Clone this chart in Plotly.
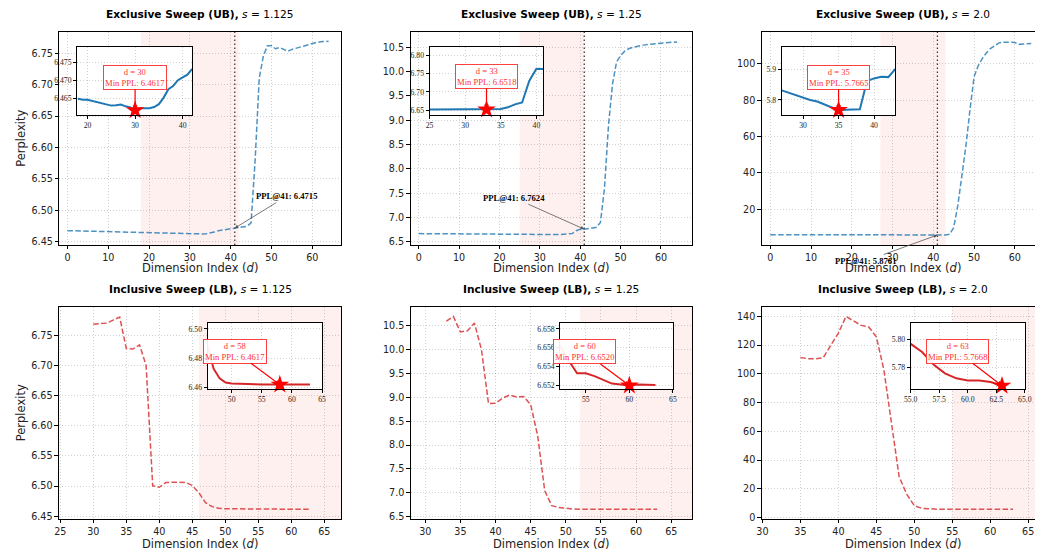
import plotly.graph_objects as go

W, H = 1042, 556

# ---------------- data ----------------
d_ub = list(range(0, 65))
ppl_ub_s1125 = [6.4675, 6.4673, 6.4671, 6.4670, 6.4669, 6.4668, 6.4667, 6.4666, 6.4665, 6.4664,
                6.4663, 6.4662, 6.4660, 6.4659, 6.4657, 6.4655, 6.4653, 6.4651,
                6.4649, 6.4646, 6.4646, 6.4643, 6.4640, 6.4636, 6.4632, 6.4630, 6.4631, 6.4633,
                6.4628, 6.4625, 6.4617, 6.4623, 6.4623, 6.4623, 6.4626, 6.4634, 6.4652, 6.4675,
                6.4684, 6.4700, 6.4708, 6.4715, 6.4731,
                6.4733, 6.4745, 6.4800, 6.5800, 6.7100, 6.7450, 6.7620, 6.7620, 6.7570, 6.7590,
                6.7560, 6.7530, 6.7560, 6.7580, 6.7600, 6.7620, 6.7640, 6.7660, 6.7670, 6.7680,
                6.7680, 6.7690]
ppl_ub_s125 = [6.672, 6.671, 6.670, 6.669, 6.668, 6.667, 6.666, 6.665, 6.664, 6.663, 6.662,
               6.661, 6.660, 6.659, 6.658, 6.657, 6.656, 6.6555, 6.655, 6.6545, 6.654, 6.6535,
               6.653, 6.6525, 6.6522,
               6.6520, 6.6522, 6.6523, 6.6522, 6.6522, 6.6521, 6.6520, 6.6519, 6.6518, 6.6522,
               6.6535, 6.6580, 6.6660, 6.6710, 6.7300, 6.7630, 6.7624,
               6.77, 6.78, 6.80, 6.90, 7.60, 8.90, 9.75, 10.20, 10.33, 10.42, 10.47, 10.50,
               10.52, 10.54, 10.55, 10.56, 10.57, 10.58, 10.59, 10.595, 10.60, 10.605, 10.61]
ppl_ub_s20 = [6.06, 6.05, 6.04, 6.03, 6.02, 6.01, 6.00, 5.99, 5.98, 5.975, 5.97, 5.96, 5.955,
              5.95, 5.94, 5.935, 5.93, 5.92, 5.91, 5.90, 5.89, 5.88, 5.87, 5.86, 5.85, 5.845, 5.838,
              5.8315, 5.824, 5.815, 5.8065, 5.800, 5.7946, 5.786, 5.777, 5.7665, 5.768, 5.768,
              5.7695, 5.862, 5.8707, 5.8761, 5.875, 5.902,
              6.3, 10.0, 22.0, 38.0, 55.0, 75.0, 93.0, 99.0, 103.0, 106.0, 108.5, 110.0, 111.5,
              112.0, 112.2, 112.0, 111.8, 110.8, 111.0, 111.2, 111.3]

d_lb_s1125 = list(range(30, 64))
ppl_lb_s1125 = [6.768, 6.769, 6.770, 6.775, 6.780, 6.728, 6.727, 6.734, 6.700, 6.5005,
                6.498, 6.506, 6.5065, 6.5065, 6.506, 6.501, 6.489, 6.4727, 6.466, 6.4632,
                6.4625, 6.4623, 6.4621, 6.4620, 6.4619, 6.4619, 6.4618, 6.4618, 6.4617, 6.4618,
                6.4618, 6.4618, 6.4618, 6.4618]
d_lb_s125 = list(range(33, 64))
ppl_lb_s125 = [10.60, 10.70, 10.375, 10.40, 10.56, 10.00, 8.87, 8.88, 8.985, 9.05, 9.01, 9.02,
               8.85, 8.19, 7.04, 6.73, 6.69, 6.67, 6.66, 6.6563, 6.6547, 6.6533, 6.6533, 6.6530,
               6.6526, 6.6522, 6.6521, 6.6520, 6.6521, 6.6521, 6.65205]
d_lb_s20 = list(range(35, 64))
ppl_lb_s20 = [111.4, 110.5, 110.5, 111.2, 119.9, 128.4, 139.9, 136.5, 133.7, 132.6,
              125.7, 102.6, 65.8, 28.5, 16.3, 8.3, 6.4, 6.0, 5.9, 5.83,
              5.7969, 5.791, 5.782, 5.7757, 5.7721, 5.7705, 5.7705, 5.7695, 5.7668]

panel_titles = ["Exclusive Sweep (UB)"] * 3 + ["Inclusive Sweep (LB)"] * 3
panel_scales = ["1.125", "1.25", "2.0", "1.125", "1.25", "2.0"]
ref_dim = 41
ppl_at_ref = [6.4715, 6.7624, 5.8761]
min_dims = [30, 33, 35, 58, 60, 63]
min_ppls = [6.4617, 6.6518, 5.7665, 6.4617, 6.6520, 5.7668]
zoom_lo = [18, 25, 27, 46, 52, 55]
zoom_hi = [42, 41, 43, 63, 63, 63]
shade_lo = [18, 25, 27, 46, 52, 55]
shade_hi = [42, 41, 43, None, None, None]

series_d = [d_ub, d_ub, d_ub, d_lb_s1125, d_lb_s125, d_lb_s20]
series_ppl = [ppl_ub_s1125, ppl_ub_s125, ppl_ub_s20, ppl_lb_s1125, ppl_lb_s125, ppl_lb_s20]

# ---------------- layout / style ----------------
main_px = [(53, 339, 32.3, 246.7), (409, 694, 32.3, 246.7), (765, 1042, 32.3, 246.7),
           (52.7, 339, 309.3, 522.7), (409.3, 694.3, 309.3, 522.7), (765, 1042, 309.3, 522.7)]
inset_px = [(71, 187.7, 47.5, 115.5), (428.3, 543.8, 47.5, 115.5), (785.3, 900.5, 47.5, 115.5),
            (203.3, 319.3, 325.3, 392), (560.7, 675, 325.3, 392), (916, 1031.7, 325.3, 392)]
main_xr = [(-2.0, 67.15), (-2.04, 67.6), (-2.1, 64.94), (24.8, 67.6), (27.94, 67.95), (29.9, 65.9)]
main_yr = [(6.4448, 6.7836), (6.439, 10.813), (0.41, 117.57), (6.4456, 6.7966), (6.451, 10.896), (-0.92, 146.45)]
main_xdt = [10, 10, 10, 5, 5, 5]
main_ydt = [0.05, 0.5, 20, 0.05, 0.5, 20]
main_yfmt = [".2f", ".1f", "d", ".2f", ".1f", "d"]
ins_xr = [(17.8, 42), (25, 41), (27, 43), (46, 65), (52.06, 65), (55, 65)]
ins_yr = [(6.4605, 6.4791), (6.6378, 6.822), (5.7516, 5.9734), (6.4586, 6.5041), (6.65161, 6.65863), (5.7643, 5.8119)]
ins_xdt = [10, 5, 5, 5, 5, 2.5]
ins_xfmt = ["d", "d", "d", "d", "d", ".1f"]
ins_ydt = [0.005, 0.05, 0.1, 0.02, 0.002, 0.02]
ins_yfmt = [".3f", ".2f", ".1f", ".2f", ".3f", ".2f"]
title_cx = [196, 551.5, 908, 196, 551.5, 908]
ref_offsets = [(52, -32), (-70.5, -31.5), (-71.6, 26)]
box_offsets = [(0, -33), (0, -33), (0, -33), (-45, -33.5), (-45, -33.6), (-45, -34.5)]

main_colors = ["rgba(31,119,180,0.8)"] * 3 + ["rgba(214,39,40,0.8)"] * 3
ins_colors = ["#1f77b4"] * 3 + ["#d62728"] * 3

SANS = "DejaVu Sans"
SERIF = "Liberation Serif"
GRID = "rgba(0,0,0,0.18)"


def fx(p):
    return p / W


def fy(p):
    return 1 - p / H


def ax_name(n, kind):
    return kind if n == 1 else f"{kind}{n}"


fig = go.Figure()
layout = dict(width=W, height=H, margin=dict(l=0, r=0, t=0, b=0),
              paper_bgcolor="white", plot_bgcolor="white", showlegend=False)
shapes, annotations = [], []

for i in range(6):
    n, m = i + 1, i + 7
    xa, ya = ax_name(n, "x"), ax_name(n, "y")
    xi, yi = ax_name(m, "x"), ax_name(m, "y")
    l, r, t, b = main_px[i]
    clip_right = r >= W
    layout[ax_name(n, "xaxis")] = dict(
        domain=[fx(l), fx(r)], anchor=ya, range=list(main_xr[i]), dtick=main_xdt[i], tick0=0,
        showline=True, mirror=True, linecolor="black", linewidth=1,
        ticks="outside", ticklen=3.5, tickwidth=0.8, tickcolor="black",
        showgrid=True, gridcolor=GRID, griddash="1px,2px", gridwidth=0.8, zeroline=False,
        tickfont=dict(family=SANS, size=9.6, color="#222"))
    layout[ax_name(n, "yaxis")] = dict(
        domain=[fy(b), fy(t)], anchor=xa, range=list(main_yr[i]), dtick=main_ydt[i], tick0=0,
        tickformat=main_yfmt[i],
        showline=True, mirror=not clip_right, linecolor="black", linewidth=1,
        ticks="outside", ticklen=3.5, tickwidth=0.8, tickcolor="black",
        showgrid=True, gridcolor=GRID, griddash="1px,2px", gridwidth=0.8, zeroline=False,
        tickfont=dict(family=SANS, size=9.6, color="#222"))

    il, ir, it, ib = inset_px[i]
    layout[ax_name(m, "xaxis")] = dict(
        domain=[fx(il), fx(ir)], anchor=yi, range=list(ins_xr[i]), dtick=ins_xdt[i], tick0=0,
        tickformat=ins_xfmt[i],
        showline=True, mirror=True, linecolor="black", linewidth=1,
        ticks="outside", ticklen=3, tickwidth=0.8, tickcolor="black",
        showgrid=True, gridcolor=GRID, griddash="1px,2px", gridwidth=0.8, zeroline=False,
        tickfont=dict(family=SERIF, size=7.7, color="#222"))
    layout[ax_name(m, "yaxis")] = dict(
        domain=[fy(ib), fy(it)], anchor=xi, range=list(ins_yr[i]), dtick=ins_ydt[i], tick0=0,
        tickformat=ins_yfmt[i],
        showline=True, mirror=True, linecolor="black", linewidth=1,
        ticks="outside", ticklen=3, tickwidth=0.8, tickcolor="black",
        showgrid=True, gridcolor=GRID, griddash="1px,2px", gridwidth=0.8, zeroline=False,
        tickfont=dict(family=SERIF, size=7.7, color="#222"))

    # shaded search window
    s_hi = shade_hi[i] if shade_hi[i] is not None else main_xr[i][1]
    shapes.append(dict(type="rect", xref=xa, yref=ya, x0=shade_lo[i], x1=s_hi,
                       y0=main_yr[i][0], y1=main_yr[i][1], fillcolor="rgba(255,0,0,0.06)",
                       line=dict(width=0), layer="below"))
    if i < 3:
        shapes.append(dict(type="line", xref=xa, yref=ya, x0=ref_dim, x1=ref_dim,
                           y0=main_yr[i][0], y1=main_yr[i][1],
                           line=dict(color="rgba(40,40,40,0.9)", width=1.3, dash="1.5px,2.5px"),
                           layer="below"))
    # inset white background
    shapes.append(dict(type="rect", xref=xi, yref=yi, x0=ins_xr[i][0], x1=ins_xr[i][1],
                       y0=ins_yr[i][0], y1=ins_yr[i][1], fillcolor="white",
                       line=dict(width=0), layer="below"))

    # main curve
    fig.add_trace(go.Scatter(x=series_d[i], y=series_ppl[i], mode="lines", xaxis=xa, yaxis=ya,
                             line=dict(color=main_colors[i], width=1.5, dash="5.5px,2.4px"),
                             hoverinfo="skip"))
    # inset curve
    sub = [(d, p) for d, p in zip(series_d[i], series_ppl[i]) if zoom_lo[i] <= d <= zoom_hi[i]]
    fig.add_trace(go.Scatter(x=[s[0] for s in sub], y=[s[1] for s in sub], mode="lines",
                             xaxis=xi, yaxis=yi, line=dict(color=ins_colors[i], width=2),
                             hoverinfo="skip"))
    fig.add_trace(go.Scatter(x=[min_dims[i]], y=[min_ppls[i]], mode="markers", xaxis=xi, yaxis=yi,
                             marker=dict(symbol="star", size=14, color="red", line=dict(width=0)),
                             cliponaxis=False, hoverinfo="skip"))
    annotations.append(dict(
        xref=xi, yref=yi, x=min_dims[i], y=min_ppls[i],
        text=f"d = {min_dims[i]}<br>Min PPL: {min_ppls[i]:.4f}",
        showarrow=True, ax=box_offsets[i][0], ay=box_offsets[i][1], axref="pixel", ayref="pixel",
        arrowcolor="red", arrowwidth=1.2, arrowhead=2, arrowsize=0.8,
        font=dict(family=SERIF, size=8.6, color="#ff3030"),
        bgcolor="rgba(255,255,255,0.92)", bordercolor="#ff4040", borderwidth=1, borderpad=1))

    if i < 3:
        annotations.append(dict(
            xref=xa, yref=ya, x=ref_dim, y=ppl_at_ref[i],
            text=f"<b>PPL@{ref_dim}: {ppl_at_ref[i]:.4f}</b>",
            showarrow=True, ax=ref_offsets[i][0], ay=ref_offsets[i][1],
            arrowcolor="#555", arrowwidth=0.8, arrowhead=2, arrowsize=0.9,
            font=dict(family=SERIF, size=8.6, color="black")))

    # titles & axis labels
    row_top = 14.3 if i < 3 else 291
    annotations.append(dict(xref="paper", yref="paper", x=fx(title_cx[i]), y=fy(row_top),
                            xanchor="center", yanchor="middle", showarrow=False,
                            text=f"<b>{panel_titles[i]},</b> <i>s</i> = {panel_scales[i]}",
                            font=dict(family=SANS, size=10.6, color="black")))
    xl_y = 270 if i < 3 else 547.5
    annotations.append(dict(xref="paper", yref="paper", x=fx(title_cx[i]), y=fy(xl_y),
                            xanchor="center", yanchor="middle", showarrow=False,
                            text="Dimension Index (<i>d</i>)",
                            font=dict(family=SANS, size=11.5, color="#222")))
    if i % 3 == 0:
        annotations.append(dict(xref="paper", yref="paper", x=fx(14.5), y=fy((t + b) / 2),
                                xanchor="center", yanchor="middle", showarrow=False,
                                textangle=-90, text="Perplexity",
                                font=dict(family=SANS, size=11.5, color="#222")))

layout["shapes"] = shapes
layout["annotations"] = annotations
fig.update_layout(**layout)
fig.write_html("out.html")
